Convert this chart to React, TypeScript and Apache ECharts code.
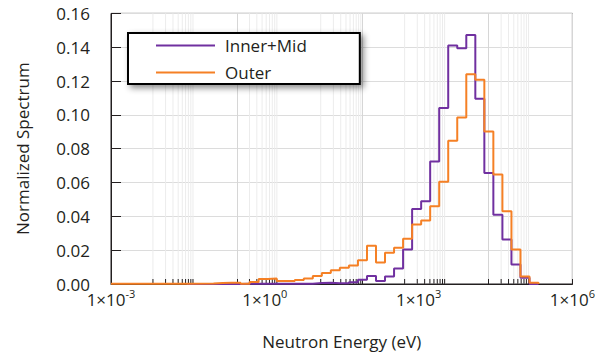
import React, { useEffect, useRef } from 'react';
import * as echarts from 'echarts';

// Bin edges (eV) of the step histograms
const binEdgesEV = [
  0.001, 0.03, 0.1, 0.15, 0.225, 0.337, 0.505, 0.758, 1.137, 1.706, 2.56, 3.84, 5.76, 8.64,
  12.95, 19.4, 29.1, 43.7, 65.6, 98.4, 147.6, 221, 332, 498, 747, 1121, 1681, 2520, 3780,
  5670, 8510, 12770, 19150, 28700, 43100, 64700, 97000, 145500, 218000,
];

// Normalized spectrum per bin (one value per bin, null = not drawn)
const innerMidValues = [
  null, 0, 0, 0, 0, 0.0001, 0.0001, 0.0001, 0.0001, 0.0001, 0.0001, 0.0002, 0.0002,
  0.0006, 0.0008, 0.0005, 0.0005, 0.001, 0.0025, 0.0047, 0.0018, 0.0045, 0.0092, 0.0204,
  0.0444, 0.049, 0.0725, 0.104, 0.141, 0.1394, 0.1473, 0.1095, 0.0657, 0.041, 0.0263,
  0.0116, 0.0037, 0,
];
const outerValues = [
  0.0001, 0.0003, 0.0006, 0.0007, 0.0008, 0.0002, 0.0012, 0.003, 0.0033, 0.0017, 0.0017,
  0.0023, 0.0033, 0.0048, 0.0065, 0.0082, 0.0096, 0.011, 0.014, 0.0226, 0.0127, 0.0185,
  0.0214, 0.0267, 0.0352, 0.0375, 0.046, 0.0604, 0.0847, 0.0985, 0.124, 0.1207, 0.0902,
  0.0647, 0.043, 0.0204, 0.0044, 0.0008,
];

const seriesNames = ['Inner+Mid', 'Outer'];
const seriesColors = ['#7030A0', '#F58025'];

// Axis ticks
const xLabelExponents = [-3, 0, 3, 6];
const yTicks = [0, 0.02, 0.04, 0.06, 0.08, 0.1, 0.12, 0.14, 0.16];
// tick-mark axis (decades) with minor log tick groups
const tickDecadeMin = -5;
const tickDecadeMax = 6;
const minorTickDecades = [-4, -2, 0, 2, 4];
const majorTickDecades = [-2, 1, 4];

const FONT = '"Open Sans", "Noto Sans", sans-serif';
const TEXT = '#231f20';

function toSteps(values: (number | null)[]) {
  const pts: number[][] = [];
  values.forEach((v, i) => {
    if (v == null) return;
    pts.push([Math.log10(binEdgesEV[i]), v]);
  });
  pts.push([Math.log10(binEdgesEV[binEdgesEV.length - 1]), 0]);
  return pts;
}

function minorTickPositions() {
  const out: number[][] = [];
  minorTickDecades.forEach((d) => {
    for (let k = 1; k <= 9; k++) {
      if (k === 1 && majorTickDecades.includes(d)) continue;
      out.push([d + Math.log10(k), 0]);
    }
  });
  return out;
}

export default function App() {
  const ref = useRef<HTMLDivElement>(null);
  useEffect(() => {
    document.body.style.margin = '0';
    if (!ref.current) return;
    const chart = echarts.init(ref.current, undefined, { renderer: 'svg' });
    const yMax = yTicks[yTicks.length - 1];
    chart.setOption({
      animation: false,
      backgroundColor: '#ffffff',
      textStyle: { fontFamily: FONT, color: TEXT },
      grid: {
        left: 111,
        right: 25,
        top: 13.4,
        bottom: 70.4,
        show: true,
        borderColor: TEXT,
        borderWidth: 1,
        backgroundColor: 'transparent',
      },
      legend: {
        data: seriesNames,
        left: 128,
        top: 33,
        orient: 'vertical',
        icon: 'rect',
        itemWidth: 59,
        itemHeight: 2,
        itemGap: 10,
        padding: [4, 53, 3, 28],
        backgroundColor: '#ffffff',
        borderColor: '#000000',
        borderWidth: 2,
        borderRadius: 0,
        shadowColor: 'rgba(0,0,0,0.45)',
        shadowBlur: 6,
        shadowOffsetX: 3,
        shadowOffsetY: 3,
        textStyle: { fontFamily: FONT, fontSize: 17, color: TEXT, padding: [0, 0, 0, 5] },
      },
      xAxis: [
        {
          type: 'value',
          position: 'bottom',
          min: xLabelExponents[0],
          max: xLabelExponents[xLabelExponents.length - 1],
          interval: 3,
          name: 'Neutron Energy (eV)',
          nameLocation: 'middle',
          nameGap: 49,
          nameTextStyle: { fontFamily: FONT, fontSize: 17, color: TEXT },
          axisLine: { show: true, onZero: false, lineStyle: { color: TEXT, width: 1 } },
          axisTick: { show: false },
          splitLine: { show: false },
          axisLabel: {
            margin: 5,
            formatter: (v: number) => `{b|1×10}{s|${v}}`,
            rich: {
              b: { fontFamily: FONT, fontSize: 17, color: TEXT, lineHeight: 20 },
              s: { fontFamily: FONT, fontSize: 11, color: TEXT, lineHeight: 12, padding: [0, 0, 12, 0] },
            },
          },
        },
        {
          type: 'value',
          position: 'bottom',
          min: tickDecadeMin,
          max: tickDecadeMax,
          interval: 3,
          axisLine: { show: false, onZero: false },
          axisLabel: { show: false },
          axisTick: { show: true, inside: true, length: 5, lineStyle: { color: TEXT, width: 1 } },
          splitLine: { show: true, lineStyle: { color: '#d6d6d6', width: 1 } },
        },
      ],
      yAxis: {
        type: 'value',
        min: 0,
        max: yMax,
        interval: 0.02,
        name: 'Normalized Spectrum',
        nameLocation: 'middle',
        nameGap: 80,
        nameTextStyle: { fontFamily: FONT, fontSize: 17, color: TEXT },
        axisLine: { show: true, onZero: false, lineStyle: { color: TEXT, width: 1 } },
        axisTick: { show: true, inside: true, length: 10, lineStyle: { color: TEXT, width: 1 } },
        splitLine: { show: true, lineStyle: { color: '#dcdcdc', width: 1 } },
        axisLabel: {
          margin: 21,
          fontFamily: FONT,
          fontSize: 17,
          color: TEXT,
          formatter: (v: number) => v.toFixed(2),
        },
      },
      series: [
        {
          type: 'custom',
          xAxisIndex: 1,
          yAxisIndex: 0,
          z: 1,
          silent: true,
          data: minorTickPositions(),
          renderItem: (params: any, api: any) => {
            const x = api.value(0);
            const b = api.coord([x, 0]);
            const t = api.coord([x, yMax]);
            return {
              type: 'group',
              children: [
                {
                  type: 'line',
                  shape: { x1: b[0], y1: b[1], x2: t[0], y2: t[1] },
                  style: { stroke: '#ececec', lineWidth: 1 },
                },
                {
                  type: 'line',
                  shape: { x1: b[0], y1: b[1], x2: b[0], y2: b[1] - 5 },
                  style: { stroke: TEXT, lineWidth: 1 },
                },
              ],
            };
          },
        },
        {
          name: seriesNames[0],
          type: 'line',
          xAxisIndex: 0,
          step: 'end',
          symbol: 'none',
          z: 3,
          color: seriesColors[0],
          lineStyle: { color: seriesColors[0], width: 2 },
          data: toSteps(innerMidValues),
        },
        {
          name: seriesNames[1],
          type: 'line',
          xAxisIndex: 0,
          step: 'end',
          symbol: 'none',
          z: 4,
          color: seriesColors[1],
          lineStyle: { color: seriesColors[1], width: 2 },
          data: toSteps(outerValues),
        },
      ],
    });
    return () => chart.dispose();
  }, []);
  return <div ref={ref} style={{ width: 598, height: 355 }} />;
}
